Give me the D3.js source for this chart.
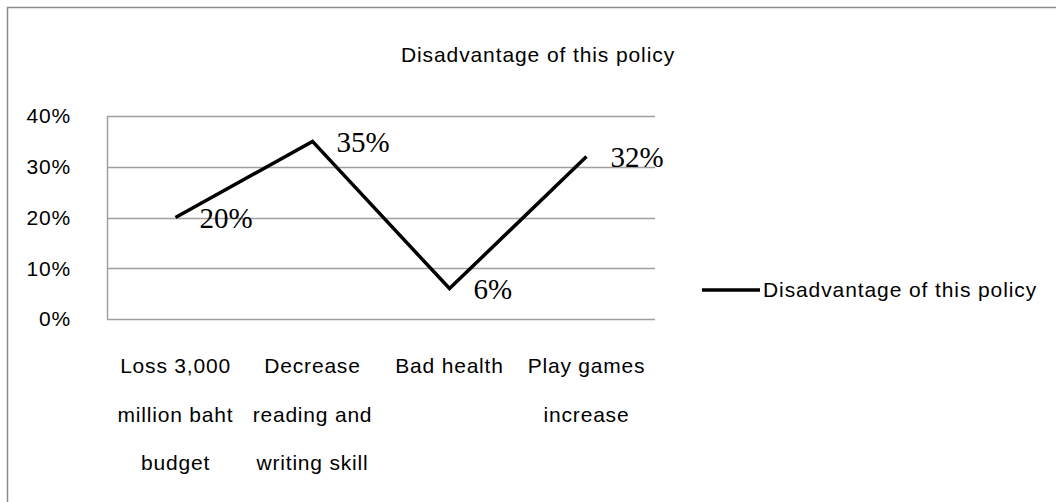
<!DOCTYPE html>
<html>
<head>
<meta charset="utf-8">
<script src="https://cdn.jsdelivr.net/npm/d3@7"></script>
<style>
  body { margin: 0; background: #fff; }
  svg text { font-family: "Liberation Sans", Arial, sans-serif; fill: #000; }
</style>
</head>
<body>
<svg id="chart" width="1056" height="502"></svg>
<script>
const width = 1056;
const height = 502;

const categories = [
  ["Loss 3,000", "million baht", "budget"],
  ["Decrease", "reading and", "writing skill"],
  ["Bad health"],
  ["Play games", "increase"]
];
const values = [0.20, 0.35, 0.06, 0.32];
const yTicks = [0, 0.1, 0.2, 0.3, 0.4];
const seriesName = "Disadvantage of this policy";
const title = "Disadvantage of this policy";

const svg = d3.select("#chart");
const margin = { left: 107, right: 401, top: 116, bottom: 183 };

// outer frame
svg.append("rect")
  .attr("x", 7.5).attr("y", 7.5)
  .attr("width", 1060).attr("height", 520)
  .attr("fill", "none").attr("stroke", "#8c8c8c").attr("stroke-width", 1.5);

const x = d3.scaleBand()
  .domain(d3.range(categories.length))
  .range([margin.left, width - margin.right]);

const y = d3.scaleLinear()
  .domain([0, 0.4])
  .range([height - margin.bottom, margin.top]);

// gridlines
svg.append("g")
  .selectAll("line")
  .data(yTicks)
  .enter()
  .append("line")
  .attr("x1", margin.left)
  .attr("x2", width - margin.right)
  .attr("y1", (d) => Math.round(y(d)) + 0.5)
  .attr("y2", (d) => Math.round(y(d)) + 0.5)
  .attr("stroke", "#a0a0a0")
  .attr("stroke-width", 1.5);

// left axis line
svg.append("line")
  .attr("x1", margin.left + 0.5).attr("x2", margin.left + 0.5)
  .attr("y1", y(0.4)).attr("y2", y(0))
  .attr("stroke", "#a0a0a0").attr("stroke-width", 1.5);

// y tick labels
svg.append("g")
  .selectAll("text")
  .data(yTicks)
  .enter()
  .append("text")
  .attr("x", 71)
  .attr("y", (d) => y(d))
  .attr("dy", "0.35em")
  .attr("text-anchor", "end")
  .style("font-size", "21px")
  .style("letter-spacing", "0.8px")
  .text(d3.format(".0%"));

// category labels
const catG = svg.append("g")
  .selectAll("text")
  .data(categories)
  .enter()
  .append("text")
  .attr("text-anchor", "middle")
  .style("font-size", "21px")
  .style("letter-spacing", "0.8px");

catG.selectAll("tspan")
  .data((d, i) => d.map((line) => ({ line, i })))
  .enter()
  .append("tspan")
  .attr("x", (d) => x(d.i) + x.bandwidth() / 2)
  .attr("y", (d, j) => 373 + j * 48.5)
  .text((d) => d.line);

// line
const line = d3.line()
  .x((d, i) => x(i) + x.bandwidth() / 2)
  .y((d) => y(d));

svg.append("path")
  .datum(values)
  .attr("d", line)
  .attr("fill", "none")
  .attr("stroke", "#000")
  .attr("stroke-width", 3.5)
  .attr("stroke-linejoin", "miter");

// data labels
svg.append("g")
  .selectAll("text")
  .data(values)
  .enter()
  .append("text")
  .attr("x", (d, i) => x(i) + x.bandwidth() / 2 + 24)
  .attr("y", (d) => y(d))
  .attr("dy", "0.36em")
  .style("font-family", "'Liberation Serif', 'Times New Roman', serif")
  .style("font-size", "29px")
  .text(d3.format(".0%"));

// title
svg.append("text")
  .attr("x", 538)
  .attr("y", 62)
  .attr("text-anchor", "middle")
  .style("font-size", "21px")
  .style("letter-spacing", "0.9px")
  .text(title);

// legend
const legend = svg.append("g").attr("transform", "translate(702, 290)");
legend.append("line")
  .attr("x1", 0).attr("x2", 58)
  .attr("y1", 0).attr("y2", 0)
  .attr("stroke", "#000").attr("stroke-width", 3.5);
legend.append("text")
  .attr("x", 61)
  .attr("y", 0)
  .attr("dy", "0.35em")
  .style("font-size", "21px")
  .style("letter-spacing", "0.9px")
  .text(seriesName);
</script>
</body>
</html>
